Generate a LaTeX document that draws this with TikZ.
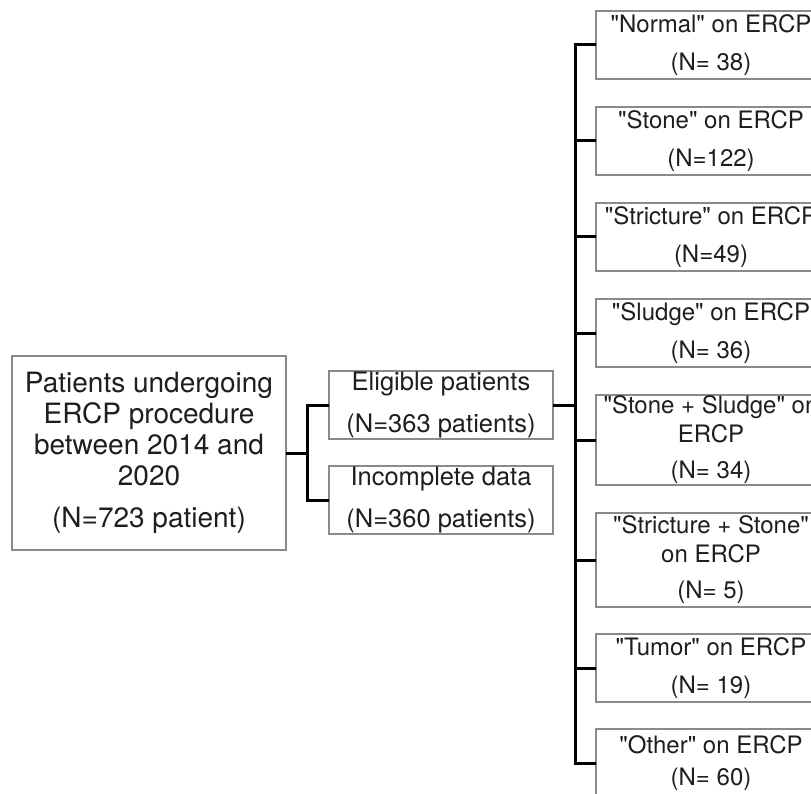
\documentclass[tikz,border=0pt]{standalone}
\usepackage{fontspec}
\setmainfont{TeX Gyre Heros}[Ligatures=TeXOff]
\usetikzlibrary{positioning}
\definecolor{frame}{HTML}{8A8A8A}
\definecolor{ink}{HTML}{1E1E1E}

\begin{document}
\begin{tikzpicture}[x=1pt, y=-1pt, node distance=28pt,
    box/.style={draw=frame, line width=1.2pt, fill=white, text=ink, align=center, inner sep=0pt, outer sep=0pt},
    startbox/.style={box, font=\fontsize{28}{31}\selectfont, minimum width=274pt, minimum height=194pt},
    midbox/.style={box, font=\fontsize{25.5}{30}\selectfont, minimum width=224pt, minimum height=68pt,
      execute at begin node={\rule{0pt}{24pt}}},
    outbox/.style={box, font=\fontsize{24}{29}\selectfont, minimum width=230pt, minimum height=68pt},
    pairbox/.style={outbox, execute at begin node={\rule{0pt}{26pt}}},
    conn/.style={line width=3pt, black}]
  \path[use as bounding box, clip] (0,0) rectangle (811,794);

  \node (patients)   [startbox] at (149,453) {Patients undergoing\\ERCP procedure\\between 2014 and\\2020\\[11pt](N=723 patient)};
  \node (eligible)   [midbox] at (441,405) {Eligible patients\\[12pt](N=363 patients)};
  \node (incomplete) [midbox, below=27pt of eligible] {Incomplete data\\[12pt](N=360 patients)};

  \node (normal)      [pairbox] at (711,45) {"Normal" on ERCP\\[9pt](N= 38)};
  \node (stone)       [pairbox, below=of normal] {"Stone" on ERCP\\[9pt](N=122)};
  \node (stricture)   [pairbox, below=of stone] {"Stricture" on ERCP\\[9pt](N=49)};
  \node (sludge)      [pairbox, below=of stricture] {"Sludge" on ERCP\\[9pt](N= 36)};
  \node (stonesludge) [outbox, minimum height=90pt, below=of sludge] {"Stone + Sludge" on\\ERCP\\[7pt](N= 34)};
  \node (strictstone) [outbox, minimum height=94pt, below=of stonesludge] {"Stricture + Stone"\\on ERCP\\[7pt](N= 5)};
  \node (tumor)       [pairbox, below=27pt of strictstone] {"Tumor" on ERCP\\[9pt](N= 19)};
  \node (other)       [outbox, below=27pt of tumor] {"Other" on ERCP\\[3pt](N= 60)};

  % first split
  \coordinate (split1) at (307,453);
  \draw[conn] (patients.east) -- (split1);
  \draw[conn] (eligible.west) -| (split1) |- (incomplete.west);

  % second split
  \coordinate (split2) at (575,405);
  \draw[conn] (eligible.east) -- (split2);
  \draw[conn] (normal.west) -| (split2) |- (other.west);
  \foreach \n in {stone,stricture,sludge,stonesludge,strictstone,tumor}
    \draw[conn] (\n.west) -- (\n.west -| split2);
\end{tikzpicture}
\end{document}
